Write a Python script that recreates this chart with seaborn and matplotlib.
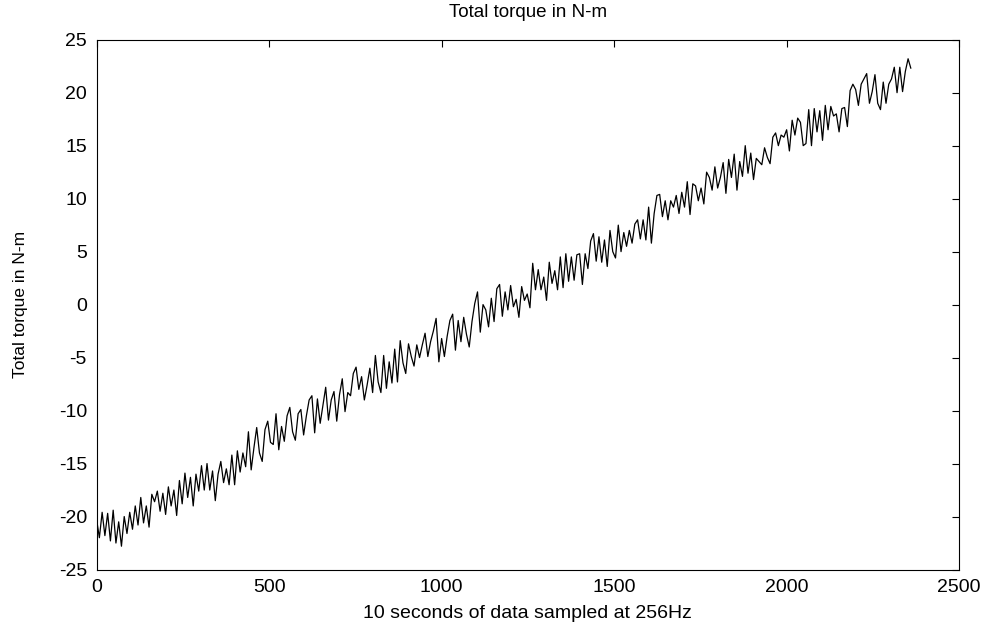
import numpy as np
import pandas as pd
import matplotlib
matplotlib.use("Agg")
import matplotlib.pyplot as plt
import seaborn as sns

# Torque samples (every 8th sample), split by segment
seg1 = [-20.3, -22.0, -19.6, -21.8, -19.7, -22.3, -19.4, -22.5, -20.5, -22.8,
        -20.0, -21.6, -19.6, -21.2, -19.0, -20.8, -18.2, -20.6, -19.0, -21.0,
        -17.9, -18.6, -17.6, -19.5, -17.8, -19.8, -17.2, -19.0, -17.5, -19.9,
        -16.6, -18.8, -15.9, -18.2, -16.3, -19.0, -16.0, -17.6, -15.2, -17.5,
        -15.0, -17.5, -15.7, -18.5, -16.0, -14.8, -16.8, -15.5, -17.0, -14.2,
        -17.0, -13.8, -15.8]
seg2 = [-14.0, -15.3, -12.0, -15.6, -13.5, -11.6, -14.0, -14.8, -11.8, -11.0,
        -13.0, -13.2, -10.3, -13.7, -11.5, -12.9, -10.5, -9.7, -12.0, -12.8,
        -10.3, -9.9, -12.3, -10.5, -9.0, -8.6, -12.1, -8.9, -11.2, -9.5,
        -7.8, -10.9, -9.0, -8.2, -11.0, -8.5, -7.0, -10.1, -8.3, -8.6,
        -6.5, -5.9, -8.0, -6.8, -9.0, -7.6, -6.0, -8.3, -4.8, -7.3]
seg3 = [-8.3, -4.8, -7.9, -5.4, -7.4, -4.2, -7.3, -3.4, -5.5, -6.5,
        -3.7, -4.9, -5.8, -3.8, -5.0, -3.8, -2.7, -4.9, -3.5, -2.5,
        -1.3, -5.4, -3.2, -4.9, -3.0, -1.5, -0.9, -4.3, -1.5, -3.5,
        -1.2, -2.8, -4.0, -1.6, 0.1, 1.2, -2.6, 0.0, -0.5, -2.1,
        0.6, -1.6, 1.5, 1.9, -1.1, 1.2, -0.5, 1.8, -0.2, 0.5]
seg4 = [-1.2, 1.7, 0.4, 1.0, -0.3, 3.9, 1.4, 3.3, 1.4, 2.6,
        0.4, 4.0, 2.0, 3.2, 1.4, 4.5, 1.6, 4.8, 2.2, 4.5,
        2.3, 4.7, 4.8, 1.9, 4.8, 3.4, 6.0, 6.7, 4.1, 6.4,
        4.0, 6.1, 3.6, 7.0, 5.0, 4.4, 7.5, 5.0, 6.8, 5.5,
        7.0, 5.8, 7.6, 8.0, 6.2, 8.0, 6.1, 9.2, 5.8, 8.6,
        10.3]
seg5 = [10.4, 8.3, 9.8, 8.0, 9.8, 9.2, 10.3, 8.6, 10.6, 9.2,
        11.6, 8.5, 11.4, 11.2, 9.8, 11.0, 9.5, 12.5, 12.0, 10.8,
        13.0, 11.0, 12.0, 13.4, 10.5, 13.7, 12.0, 14.2, 10.8, 13.5,
        12.1, 15.0, 12.4, 14.3, 11.8, 13.8, 13.5, 13.2, 14.8, 13.9,
        13.3, 15.8, 16.2, 15.0, 16.0, 15.8, 16.5, 14.5, 17.4, 16.0]
seg6 = [17.6, 17.2, 15.0, 15.2, 18.4, 15.0, 18.5, 16.3, 18.3, 15.5,
        18.8, 16.5, 18.7, 17.8, 18.0, 16.3, 18.5, 18.6, 16.8, 20.2,
        20.8, 20.3, 18.8, 20.8, 21.3, 21.8, 19.0, 20.1, 21.7, 19.0,
        18.4, 21.0, 19.0, 20.8, 21.3, 22.4, 20.0, 22.4, 20.1, 22.0,
        23.2, 22.3]

torque = seg1 + seg2 + seg3 + seg4 + seg5 + seg6
sample_step = 8
samples = np.arange(len(torque)) * sample_step

x_ticks = [0, 500, 1000, 1500, 2000, 2500]
y_ticks = [-25, -20, -15, -10, -5, 0, 5, 10, 15, 20, 25]

df = pd.DataFrame({"sample": samples, "torque": torque})

sns.set_style("white")
plt.rcParams["font.family"] = ["Liberation Sans", "DejaVu Sans"]
plt.rcParams["text.color"] = "black"
plt.rcParams["axes.labelcolor"] = "black"

fig = plt.figure(figsize=(9.96, 6.3), dpi=100)
ax = fig.add_axes([0.097, 0.096, 0.866, 0.841])

sns.lineplot(data=df, x="sample", y="torque", ax=ax, color="black",
             linewidth=0.9, estimator=None)

ax.set_xlim(0, 2500)
ax.set_ylim(-25, 25)
ax.set_xticks(x_ticks)
ax.set_yticks(y_ticks)
ax.set_xticklabels([str(t) for t in x_ticks])
ax.set_yticklabels([str(t) for t in y_ticks])
ax.tick_params(direction="in", top=True, right=True, length=5, width=0.8,
               labelsize=14, colors="black", labelcolor="black", pad=7)
for s in ax.spines.values():
    s.set_visible(True)
    s.set_color("black")
    s.set_linewidth(0.8)

ax.set_xlabel("10 seconds of data sampled at 256Hz", fontsize=14,
              labelpad=6, color="black")
ax.set_ylabel("Total torque in N-m", fontsize=12.5, labelpad=22, color="black")
ax.set_title("Total torque in N-m", fontsize=13.5, pad=16, color="black")

fig.savefig("out.png", dpi=100, facecolor="white")
